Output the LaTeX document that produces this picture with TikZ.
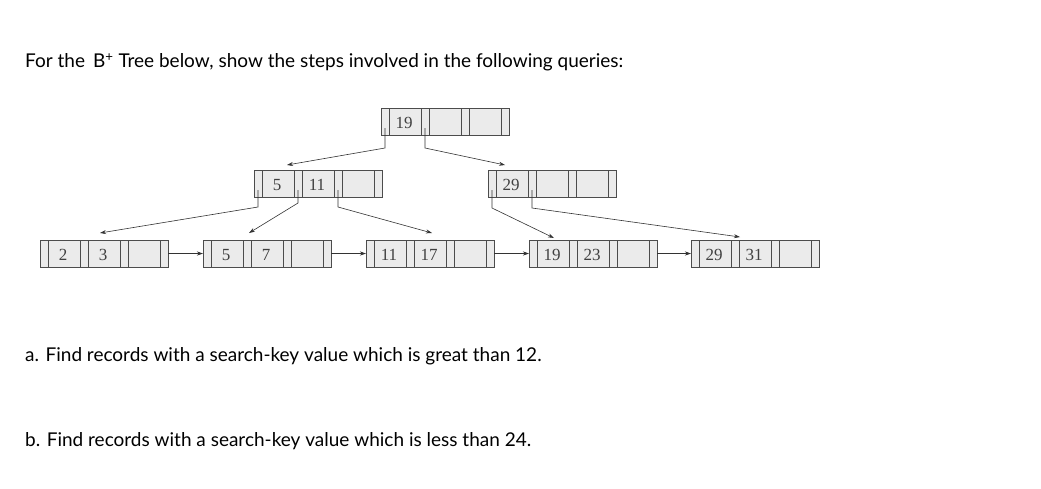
\documentclass[tikz,border=0pt]{standalone}
\usepackage{fontspec}
\newfontfamily\lato{Lato}
\newfontfamily\keyfont{Liberation Serif}
\usetikzlibrary{arrows.meta}
\tikzset{
  cell/.style = {draw = black!70, fill = black!8, line width = .6pt},
  key/.style  = {font = \keyfont\fontsize{17}{17}\selectfont, text = black!75, inner sep = 0pt},
  ptr/.style  = {draw = black!80, line width = .6pt, -{Stealth[length=6pt, width=4pt]}},
  query/.style = {font = \lato\fontsize{19}{22}\selectfont, anchor = west, inner sep = 0pt}
}
% \bnode{name}{x}{y}{key1}{key2}{key3}: one node of the tree, four pointers and three keys
\newcommand{\bnode}[6]{
  \foreach \i/\k in {0/#4, 1/#5, 2/#6} {
    \draw [cell] (#2+\i*40, #3) rectangle +(8, 27);
    \draw [cell] (#2+\i*40+8, #3) rectangle +(32, 27);
    \node [key] at (#2+\i*40+23, #3+15) {\k};
    \coordinate (#1-p\i) at (#2+\i*40+4, #3+20);
  }
  \draw [cell] (#2+120, #3) rectangle +(8, 27);
  \coordinate (#1-p3) at (#2+124, #3+20);
  \coordinate (#1-in) at (#2, #3+13.5);
  \coordinate (#1-out) at (#2+128, #3+13.5);
}
\begin{document}
\begin{tikzpicture}[x = 1pt, y = -1pt]
  \useasboundingbox (0,0) rectangle (1041,488);
  \node [query] (title) at (25,62) {For the \,B\textsuperscript{+} Tree below, show the steps involved in the following queries:};

  % Draw the tree nodes:
  \bnode{root}{381}{108}{19}{}{}
  \bnode{inl}{254}{170}{5}{11}{}
  \bnode{inr}{488}{170}{29}{}{}
  \bnode{la}{40}{240}{2}{3}{}
  \bnode{lb}{203}{240}{5}{7}{}
  \bnode{lc}{366}{240}{11}{17}{}
  \bnode{ld}{529}{240}{19}{23}{}
  \bnode{le}{691}{240}{29}{31}{}

  % Draw the child pointers:
  \draw [ptr] (root-p0) -- ++(0,20) -- (287,165);
  \draw [ptr] (root-p1) -- ++(0,20) -- (505,165);
  \draw [ptr] (inl-p0) -- ++(0,17) -- (100,233);
  \draw [ptr] (inl-p1) -- ++(0,13) -- (249,233);
  \draw [ptr] (inl-p2) -- ++(0,17) -- (432,233);
  \draw [ptr] (inr-p0) -- ++(0,18) -- (554,238);
  \draw [ptr] (inr-p1) -- ++(0,18) -- (740,237);

  % Draw the leaf links:
  \foreach \a/\b in {la/lb, lb/lc, lc/ld, ld/le}
    \draw [ptr] (\a-out) -- (\b-in);

  \node [query] (qa) at (25,356) {a. Find records with a search-key value which is great than 12.};
  \node [query] (qb) at (25,441) {b. Find records with a search-key value which is less than 24.};
\end{tikzpicture}
\end{document}
